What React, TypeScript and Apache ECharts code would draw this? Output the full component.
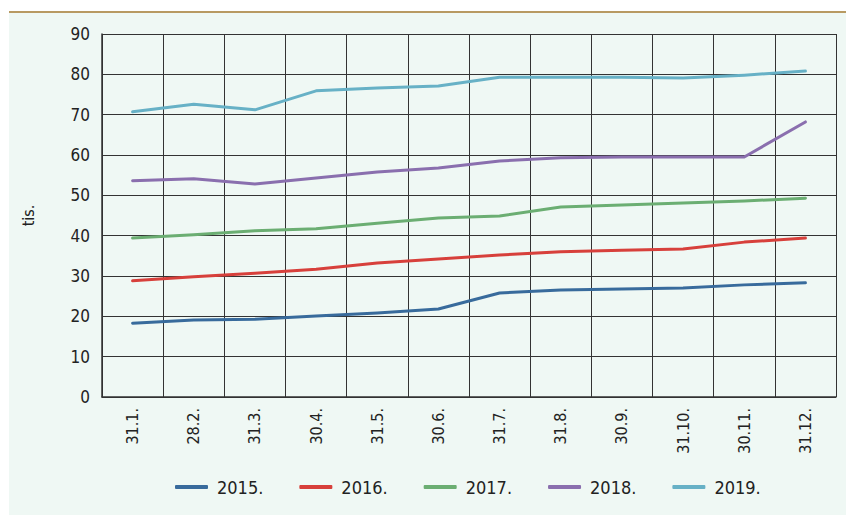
import React, { useEffect, useRef } from "react";
import * as echarts from "echarts";

const categories = ["31.1.", "28.2.", "31.3.", "30.4.", "31.5.", "30.6.", "31.7.", "31.8.", "30.9.", "31.10.", "30.11.", "31.12."];
const s2015 = [18.3, 19.1, 19.3, 20.1, 20.8, 21.8, 25.8, 26.5, 26.8, 27.0, 27.8, 28.3];
const s2016 = [28.8, 29.8, 30.7, 31.7, 33.2, 34.2, 35.2, 36.0, 36.4, 36.7, 38.4, 39.4];
const s2017 = [39.4, 40.2, 41.2, 41.7, 43.1, 44.4, 44.9, 47.1, 47.6, 48.1, 48.6, 49.3];
const s2018 = [53.6, 54.1, 52.8, 54.3, 55.8, 56.8, 58.5, 59.3, 59.5, 59.5, 59.5, 68.2];
const s2019 = [70.7, 72.6, 71.2, 75.9, 76.6, 77.1, 79.3, 79.3, 79.3, 79.1, 79.8, 80.8];
const seriesNames = ["2015.", "2016.", "2017.", "2018.", "2019."];
const seriesData = [s2015, s2016, s2017, s2018, s2019];
const colors = ["#386b9c", "#d7403b", "#6bae72", "#8a6fae", "#67b1c6"];
const yName = "tis.";

const FONT = "'Liberation Sans Narrow', 'DejaVu Sans Condensed', 'Roboto', sans-serif";

export default function App() {
  const ref = useRef<HTMLDivElement>(null);
  useEffect(() => {
    document.body.style.margin = "0";
    const chart = echarts.init(ref.current!, null, { renderer: "svg" });
    chart.setOption({
      animation: false,
      textStyle: { fontFamily: FONT },
      graphic: [
        { type: "rect", z: -10, shape: { x: 9, y: 12, width: 837, height: 503 }, style: { fill: "#eff8f4" }, silent: true },
        { type: "rect", z: -9, shape: { x: 9, y: 11, width: 837, height: 2 }, style: { fill: "#b89a62" }, silent: true },
      ],
      grid: { left: 102, top: 34, right: 10, bottom: 118, containLabel: false },
      legend: {
        bottom: 14,
        left: 170,
        icon: "roundRect",
        itemWidth: 33,
        itemHeight: 4,
        itemGap: 36,
        textStyle: { fontFamily: FONT, fontSize: 18, color: "#222", padding: [0, 0, 0, 4] },
        data: seriesNames,
      },
      xAxis: {
        type: "category",
        data: categories,
        boundaryGap: true,
        axisLine: { show: true, lineStyle: { color: "#333", width: 1.5 } },
        axisTick: { show: false },
        splitLine: { show: true, lineStyle: { color: "#333", width: 1 } },
        axisLabel: { rotate: 90, margin: 11, fontSize: 16, color: "#222", fontFamily: FONT, interval: 0 },
      },
      yAxis: {
        type: "value",
        min: 0,
        max: 90,
        interval: 10,
        name: yName,
        nameLocation: "middle",
        nameRotate: 90,
        nameGap: 66,
        nameTextStyle: { fontSize: 16, color: "#222", fontFamily: FONT },
        axisLine: { show: true, lineStyle: { color: "#333", width: 1.5 } },
        axisTick: { show: false },
        splitLine: { show: true, lineStyle: { color: "#333", width: 1 } },
        axisLabel: { margin: 12, fontSize: 17, color: "#222", fontFamily: FONT },
      },
      series: seriesNames.map((n, i) => ({
        name: n,
        type: "line",
        data: seriesData[i],
        showSymbol: false,
        symbol: "none",
        color: colors[i],
        lineStyle: { width: 3, color: colors[i], cap: "round", join: "round" },
      })),
    });
    return () => chart.dispose();
  }, []);
  return <div ref={ref} style={{ width: 846, height: 515 }} />;
}
